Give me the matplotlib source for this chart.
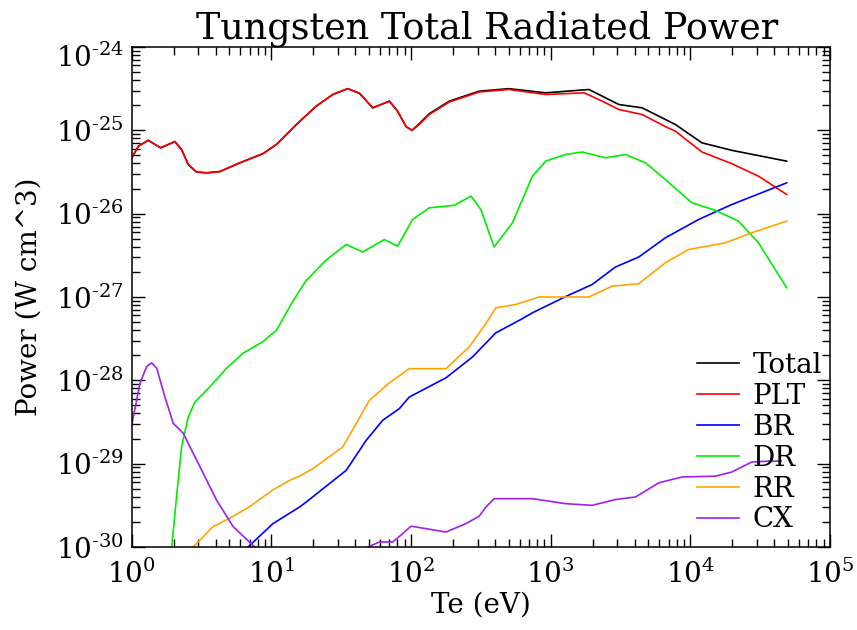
import numpy as np
import matplotlib
matplotlib.use("Agg")
import matplotlib.pyplot as plt
from matplotlib.ticker import FixedLocator, LogLocator, NullFormatter
import matplotlib.transforms as mtransforms

plt.rcParams['font.family'] = ['DejaVu Serif']
plt.rcParams['mathtext.fontset'] = 'dejavuserif'

# ---- data (log10 of Te in eV, log10 of power in W cm^3) ----
lte_plt = [0.0, 0.048, 0.119, 0.207, 0.309, 0.357, 0.405, 0.464, 0.536, 0.631, 0.774, 0.940, 1.036,
           1.179, 1.321, 1.44, 1.547, 1.631, 1.726, 1.786, 1.845, 1.904, 1.964, 2.007, 2.059, 2.131,
           2.274, 2.488, 2.70, 2.964, 3.24, 3.369, 3.488, 3.655, 3.821, 3.893, 4.083, 4.297, 4.488,
           4.69]
lp_plt = [-25.33, -25.19, -25.12, -25.21, -25.135, -25.23, -25.41, -25.50, -25.51, -25.495, -25.39,
          -25.28, -25.17, -24.93, -24.71, -24.57, -24.50, -24.555, -24.73, -24.69, -24.65, -24.77,
          -24.955, -25.0, -24.93, -24.81, -24.66, -24.54, -24.51, -24.57, -24.55, -24.65, -24.75,
          -24.81, -24.955, -25.01, -25.26, -25.40, -25.55, -25.77]

lte_tot = [0.0, 0.048, 0.119, 0.207, 0.309, 0.357, 0.405, 0.464, 0.536, 0.631, 0.774, 0.940, 1.036,
           1.179, 1.321, 1.44, 1.547, 1.631, 1.726, 1.786, 1.845, 1.904, 1.964, 2.007, 2.059, 2.131,
           2.274, 2.488, 2.70, 2.964, 3.274, 3.369, 3.488, 3.655, 3.893, 4.083, 4.297, 4.69]
lp_tot = [-25.33, -25.19, -25.12, -25.21, -25.135, -25.23, -25.41, -25.50, -25.51, -25.495, -25.39,
          -25.28, -25.17, -24.93, -24.71, -24.57, -24.50, -24.555, -24.73, -24.69, -24.65, -24.77,
          -24.955, -25.0, -24.92, -24.80, -24.65, -24.53, -24.50, -24.55, -24.51, -24.59, -24.69,
          -24.73, -24.93, -25.15, -25.24, -25.37]

lte_br = [0.81, 0.833, 1.011, 1.202, 1.25, 1.536, 1.679, 1.797, 1.916, 1.988, 2.25, 2.44, 2.607,
          2.786, 2.869, 3.107, 3.297, 3.464, 3.631, 3.821, 4.059, 4.297, 4.69]
lp_br = [-30.05, -30.0, -29.72, -29.52, -29.46, -29.08, -28.72, -28.48, -28.34, -28.20, -27.97,
         -27.72, -27.43, -27.27, -27.19, -26.995, -26.85, -26.64, -26.52, -26.29, -26.07, -25.89,
         -25.63]

lte_dr = [0.275, 0.286, 0.321, 0.357, 0.405, 0.452, 0.559, 0.679, 0.797, 0.940, 1.036, 1.154, 1.25,
          1.393, 1.536, 1.654, 1.809, 1.904, 2.011, 2.131, 2.309, 2.43, 2.50, 2.595, 2.726, 2.869,
          2.964, 3.107, 3.226, 3.393, 3.536, 3.679, 3.821, 4.011, 4.179, 4.345, 4.488, 4.69]
lp_dr = [-30.3, -30.0, -29.40, -28.80, -28.44, -28.26, -28.08, -27.855, -27.675, -27.535, -27.40,
         -27.05, -26.80, -26.555, -26.37, -26.46, -26.31, -26.39, -26.07, -25.93, -25.90, -25.79,
         -25.95, -26.40, -26.11, -25.55, -25.37, -25.29, -25.26, -25.33, -25.29, -25.39, -25.59,
         -25.87, -25.96, -26.09, -26.35, -26.89]

lte_rr = [0.42, 0.44, 0.583, 0.702, 0.845, 1.011, 1.131, 1.202, 1.297, 1.511, 1.607, 1.702, 1.845,
          1.988, 2.25, 2.416, 2.536, 2.607, 2.75, 2.916, 3.274, 3.44, 3.631, 3.821, 3.988, 4.25,
          4.44, 4.69]
lp_rr = [-30.05, -30.0, -29.755, -29.655, -29.515, -29.315, -29.20, -29.15, -29.06, -28.80, -28.52,
         -28.24, -28.03, -27.86, -27.86, -27.60, -27.32, -27.13, -27.09, -27.0, -27.0, -26.87,
         -26.84, -26.59, -26.43, -26.35, -26.23, -26.09]

lte_cx = [0.0, 0.059, 0.107, 0.143, 0.179, 0.238, 0.297, 0.369, 0.488, 0.607, 0.726, 0.881, 0.92,
          np.nan, 1.66, 1.69, 1.774, 1.869, 1.94, 2.0, 2.25, 2.393, 2.488, 2.536, 2.595, 2.869,
          3.107, 3.297, 3.464, 3.607, 3.774, 3.94, 4.179, 4.297, 4.44, 4.56, 4.65]
lp_cx = [-28.54, -28.035, -27.835, -27.79, -27.855, -28.20, -28.515, -28.635, -29.035, -29.435,
         -29.755, -30.0, -30.1, np.nan, -30.1, -30.0, -29.94, -29.94, -29.84, -29.75, -29.82,
         -29.72, -29.63, -29.52, -29.42, -29.42, -29.48, -29.50, -29.43, -29.40, -29.23, -29.16,
         -29.15, -29.10, -28.98, -28.97, -28.97]

series = [
    ("Total", lte_tot, lp_tot, "black"),
    ("PLT", lte_plt, lp_plt, "#ff0000"),
    ("BR", lte_br, lp_br, "#0000ff"),
    ("DR", lte_dr, lp_dr, "#00ee00"),
    ("RR", lte_rr, lp_rr, "#ffa500"),
    ("CX", lte_cx, lp_cx, "#a020f0"),
]

fig = plt.figure(figsize=(8.57, 6.30), dpi=100)
ax = fig.add_axes([131.7 / 857, 1 - 547 / 630, (830 - 131.7) / 857, (547 - 47) / 630])

handles = []
for name, lx, ly, col in series:
    x = np.power(10.0, np.array(lx, dtype=float))
    y = np.power(10.0, np.array(ly, dtype=float))
    h, = ax.plot(x, y, color=col, lw=1.2, label=name)
    handles.append(h)

ax.set_xscale('log')
ax.set_yscale('log')
ax.set_xlim(1, 1e5)
ax.set_ylim(1e-30, 1e-24)

xt = [1, 10, 100, 1e3, 1e4, 1e5]
yt = [1e-30, 1e-29, 1e-28, 1e-27, 1e-26, 1e-25, 1e-24]
ax.xaxis.set_major_locator(FixedLocator(xt))
ax.yaxis.set_major_locator(FixedLocator(yt))
ax.set_xticklabels([r'$10^{%d}$' % e for e in range(0, 6)])
ax.set_yticklabels([r'$10^{\text{-}%d}$' % e for e in range(30, 23, -1)])
ax.xaxis.set_minor_locator(LogLocator(base=10, subs=np.arange(2, 10), numticks=20))
ax.yaxis.set_minor_locator(LogLocator(base=10, subs=np.arange(2, 10), numticks=20))
ax.xaxis.set_minor_formatter(NullFormatter())
ax.yaxis.set_minor_formatter(NullFormatter())

ax.tick_params(which='both', direction='in', top=True, right=True, width=1.0)
ax.tick_params(which='major', length=9.5)
ax.tick_params(which='minor', length=5.5)
ax.tick_params(axis='x', which='major', labelsize=20, pad=9)
ax.tick_params(axis='y', which='major', labelsize=20, pad=6)
for s in ax.spines.values():
    s.set_linewidth(1.1)

ax.set_xlabel('Te (eV)', fontsize=20, labelpad=2)
ax.set_ylabel('Power (W cm^3)', fontsize=20, labelpad=9)
ax.set_title('Tungsten Total Radiated Power', fontsize=26.3, pad=6, x=0.509)

ax.legend(handles=handles, loc='upper left', bbox_to_anchor=(697 / 857, 1 - 352 / 630),
          bbox_transform=fig.transFigure, frameon=False, fontsize=20, handlelength=1.5,
          handletextpad=0.5, labelspacing=0.14, borderpad=0, borderaxespad=0)

fig.canvas.draw()
# top y label sits lower in the reference
lab = ax.yaxis.get_major_ticks()[-1].label1
lab.set_transform(lab.get_transform() + mtransforms.ScaledTranslation(0, -8 / 100, fig.dpi_scale_trans))

fig.savefig('out.png', dpi=100)
